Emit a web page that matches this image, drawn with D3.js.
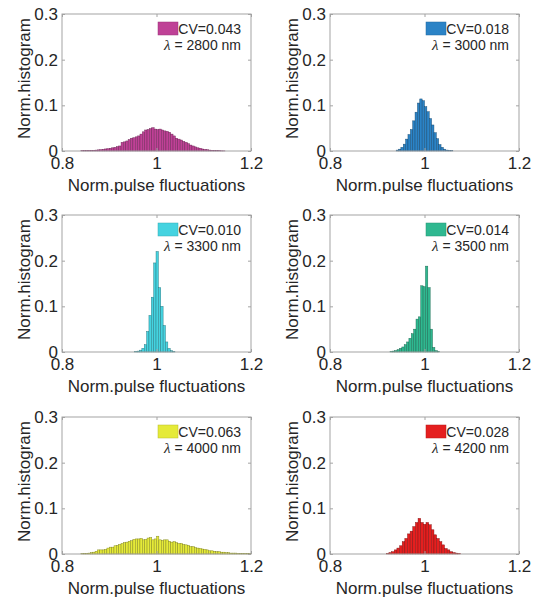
<!DOCTYPE html>
<html>
<head>
<meta charset="utf-8">
<script src="https://cdn.jsdelivr.net/npm/d3@7"></script>
<style>
  body { margin: 0; background: #fff; }
  text { font-family: "Liberation Sans", Arial, sans-serif; fill: #262626; }
</style>
</head>
<body>
<div id="chart"></div>
<script>
// panel info
var wavelengths = [2800, 3000, 3300, 3500, 4000, 4200];
var cvLabels = ["0.043", "0.018", "0.010", "0.014", "0.063", "0.028"];
var colors = ["#bf4196", "#2b83c6", "#45d3e0", "#2fb890", "#e5ea38", "#e51f1f"];

// histogram bins: first edge and bin width for each panel
var binStarts = [0.840, 0.940, 0.954, 0.927, 0.840, 0.9192];
var binWidths = [0.005, 0.005, 0.005, 0.005, 0.005, 0.0056];

// normalised histogram heights
var hist2800 = [0.0005, 0.0006, 0.0008, 0.001, 0.0012, 0.0015, 0.002, 0.0025, 0.003, 0.0037,
  0.0045, 0.005, 0.006, 0.007, 0.008, 0.0095, 0.011, 0.019, 0.020, 0.022, 0.025, 0.028, 0.029,
  0.031, 0.033, 0.037, 0.042, 0.046, 0.047, 0.049, 0.051, 0.048, 0.047, 0.048, 0.046, 0.044,
  0.043, 0.041, 0.037, 0.033, 0.028, 0.026, 0.024, 0.021, 0.019, 0.016, 0.013, 0.011, 0.009,
  0.007, 0.006, 0.0045, 0.0035, 0.0028, 0.002, 0.0015, 0.001, 0.0008, 0.0005, 0.0004, 0.0003];
var hist3000 = [0.002, 0.004, 0.008, 0.015, 0.026, 0.036, 0.047, 0.066, 0.085, 0.105, 0.114,
  0.110, 0.097, 0.086, 0.071, 0.057, 0.040, 0.027, 0.014, 0.008, 0.004, 0.002, 0.001, 0.0005];
var hist3300 = [0.001, 0.002, 0.004, 0.008, 0.016, 0.045, 0.080, 0.120, 0.195, 0.220, 0.141,
  0.100, 0.058, 0.022, 0.008, 0.003, 0.001];
var hist3500 = [0.001, 0.002, 0.003, 0.005, 0.008, 0.011, 0.016, 0.022, 0.030, 0.040, 0.050,
  0.072, 0.077, 0.145, 0.143, 0.188, 0.141, 0.050, 0.010, 0.003, 0.001];
var hist4000 = [0.0005, 0.001, 0.001, 0.002, 0.003, 0.004, 0.006, 0.009, 0.009, 0.009, 0.010, 0.013,
  0.015, 0.015, 0.018, 0.019, 0.021, 0.023, 0.025, 0.026, 0.028, 0.029, 0.032, 0.033,
  0.033, 0.034, 0.031, 0.032, 0.035, 0.036, 0.031, 0.033, 0.039, 0.031, 0.030, 0.031,
  0.031, 0.028, 0.026, 0.027, 0.025, 0.023, 0.023, 0.021, 0.020, 0.019, 0.016, 0.016,
  0.014, 0.013, 0.012, 0.011, 0.010, 0.009, 0.007, 0.007, 0.006, 0.005, 0.005, 0.004,
  0.004, 0.003, 0.003, 0.002, 0.002, 0.002, 0.001, 0.001, 0.001, 0.001, 0.0005, 0.0005];
var hist4200 = [0.001, 0.003, 0.005, 0.009, 0.013, 0.018, 0.027, 0.034, 0.044, 0.050, 0.060,
  0.069, 0.078, 0.069, 0.065, 0.069, 0.064, 0.053, 0.042, 0.034, 0.027, 0.020, 0.012, 0.009,
  0.005, 0.003, 0.002, 0.001];
var histograms = [hist2800, hist3000, hist3300, hist3500, hist4000, hist4200];

var xTicks = [0.8, 1, 1.2];
var yTicks = [0, 0.1, 0.2, 0.3];

// layout
var W = 536, H = 598;
var colLeft = [62, 330];
var rowTop = [14, 215, 417];
var pw = 189, ph = 137;
var axisColor = "#a3a3a3";

var svg = d3.select("#chart").append("svg")
    .attr("width", W)
    .attr("height", H);

var x = d3.scaleLinear().domain([0.8, 1.2]).range([0, pw]);
var y = d3.scaleLinear().domain([0, 0.3]).range([ph, 0]);

histograms.forEach(function(values, k) {
    var col = k % 2, row = Math.floor(k / 2);
    var g = svg.append("g")
        .attr("transform", "translate(" + colLeft[col] + "," + rowTop[row] + ")");

    var bins = values.map(function(v, i) {
        return { x0: binStarts[k] + i * binWidths[k], x1: binStarts[k] + (i + 1) * binWidths[k], v: v };
    });

    var edge = d3.color(colors[k]).darker(1.6);

    g.selectAll("rect.bar")
        .data(bins)
        .enter()
        .append("rect")
        .attr("class", "bar")
        .attr("x", d => x(d.x0))
        .attr("width", d => x(d.x1) - x(d.x0))
        .attr("y", d => y(d.v))
        .attr("height", d => y(0) - y(d.v))
        .attr("fill", colors[k])
        .attr("stroke", edge)
        .attr("stroke-width", 0.45);

    // axes, ticks pointing inside like matlab
    g.append("g")
        .attr("transform", "translate(0," + ph + ")")
        .call(d3.axisBottom(x).tickValues(xTicks).tickFormat(d => String(d))
            .tickSizeInner(-3).tickSizeOuter(0).tickPadding(6));
    g.append("g")
        .call(d3.axisLeft(y).tickValues(yTicks).tickFormat(d => String(d))
            .tickSizeInner(-3).tickSizeOuter(0).tickPadding(4));
    g.append("g")
        .call(d3.axisTop(x).tickValues(xTicks).tickFormat("")
            .tickSizeInner(-3).tickSizeOuter(0));
    g.append("g")
        .attr("transform", "translate(" + pw + ",0)")
        .call(d3.axisRight(y).tickValues(yTicks).tickFormat("")
            .tickSizeInner(-3).tickSizeOuter(0));

    g.selectAll(".domain").remove();
    g.selectAll(".tick line").attr("stroke", axisColor);
    g.selectAll(".tick text")
        .attr("fill", "#262626")
        .style("font-size", "17px")
        .style("font-family", "'Liberation Sans', Arial, sans-serif");

    g.append("rect")
        .attr("width", pw)
        .attr("height", ph)
        .attr("fill", "none")
        .attr("stroke", axisColor)
        .attr("stroke-width", 1);

    // axis labels
    g.append("text")
        .attr("x", pw / 2)
        .attr("y", ph + 40)
        .attr("text-anchor", "middle")
        .style("font-size", "17px")
        .text("Norm.pulse fluctuations");

    g.append("text")
        .attr("transform", "translate(-32," + (ph / 2 - 4) + ") rotate(-90)")
        .attr("text-anchor", "middle")
        .style("font-size", "17px")
        .text("Norm.histogram");

    // legend
    g.append("rect")
        .attr("x", pw - 93)
        .attr("y", 8)
        .attr("width", 20)
        .attr("height", 13)
        .attr("fill", colors[k])
        .attr("stroke", d3.color(colors[k]).darker(0.6))
        .attr("stroke-width", 0.5);

    g.append("text")
        .attr("x", pw - 10)
        .attr("y", 20)
        .attr("text-anchor", "end")
        .style("font-size", "14px")
        .text("CV=" + cvLabels[k]);

    var lam = g.append("text")
        .attr("x", pw - 10)
        .attr("y", 36)
        .attr("text-anchor", "end")
        .style("font-size", "14px");
    lam.append("tspan")
        .style("font-family", "'Liberation Serif', 'DejaVu Serif', serif")
        .style("font-style", "italic")
        .style("font-size", "15px")
        .text("λ");
    lam.append("tspan").text(" = " + wavelengths[k] + " nm");
});
</script>
</body>
</html>
